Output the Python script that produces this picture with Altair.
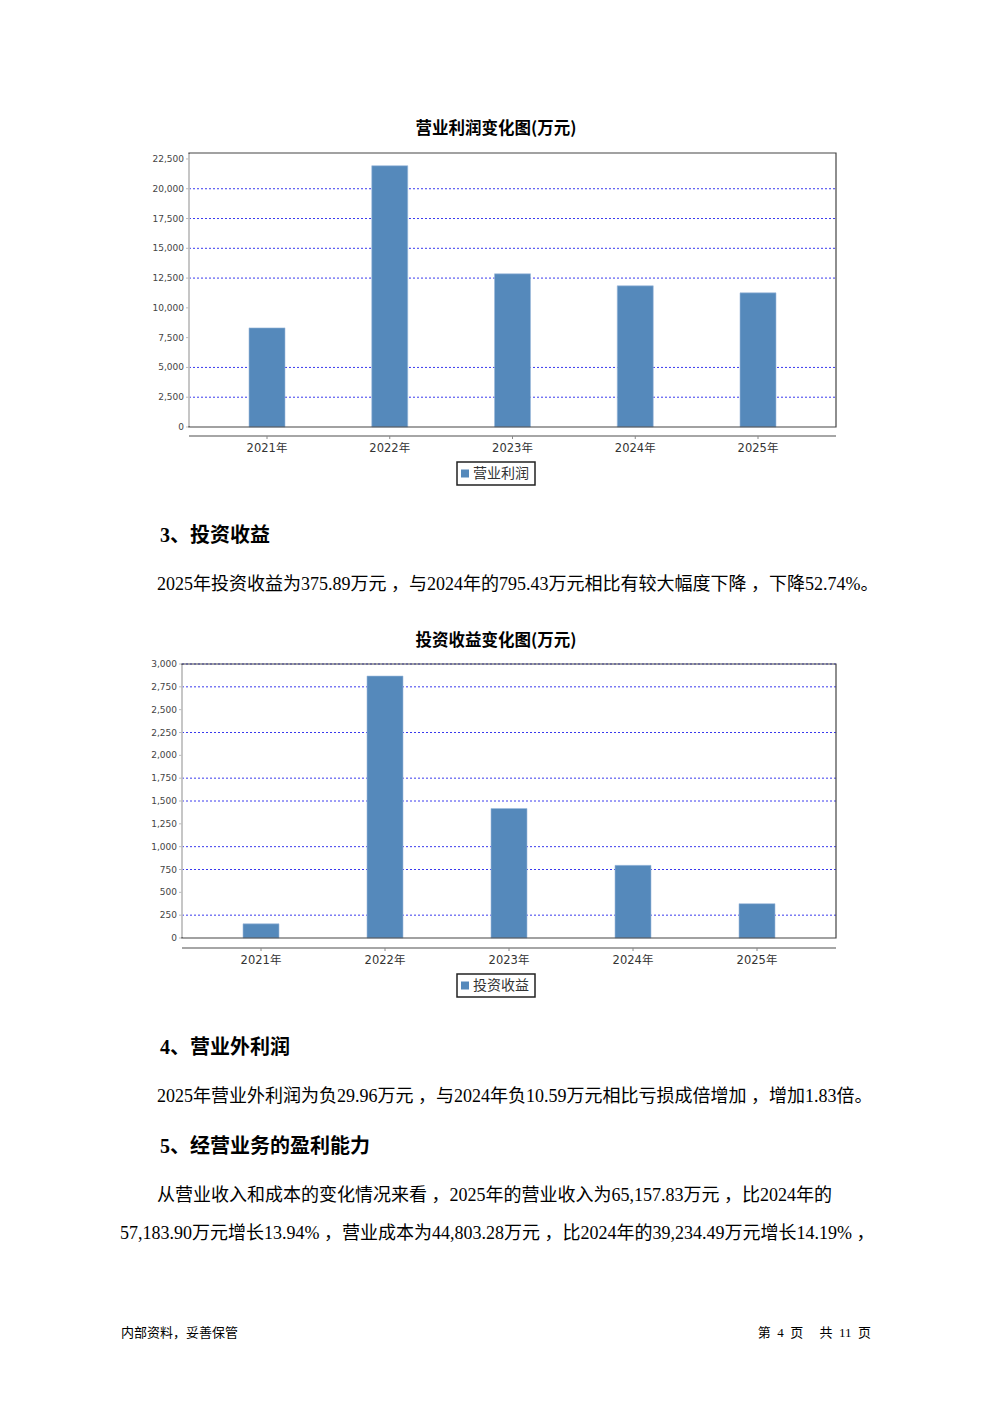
import altair as alt
import pandas as pd

# ---------------- data ----------------
years = ["2021年", "2022年", "2023年", "2024年", "2025年"]
op_profit = [8320, 21930, 12860, 11850, 11260]          # 营业利润 (万元)
inv_income = [155, 2868, 1418, 795.43, 375.89]           # 投资收益 (万元)

profit_ticks = [0, 2500, 5000, 7500, 10000, 12500, 15000, 17500, 20000, 22500]
profit_grid = [2500, 5000, 12500, 15000, 17500, 20000]
inv_ticks = [0, 250, 500, 750, 1000, 1250, 1500, 1750, 2000, 2250, 2500, 2750, 3000]
inv_grid = [250, 750, 1000, 1500, 1750, 2250, 2750, 3000]

title1 = "营业利润变化图(万元)"
title2 = "投资收益变化图(万元)"
series1 = "营业利润"
series2 = "投资收益"

heading3 = "3、投资收益"
para3 = "2025年投资收益为375.89万元 ，与2024年的795.43万元相比有较大幅度下降 ，下降52.74%。"
heading4 = "4、营业外利润"
para4 = "2025年营业外利润为负29.96万元 ，与2024年负10.59万元相比亏损成倍增加 ，增加1.83倍。"
heading5 = "5、经营业务的盈利能力"
para5a = "从营业收入和成本的变化情况来看 ，2025年的营业收入为65,157.83万元 ，比2024年的"
para5b = "57,183.90万元增长13.94% ，营业成本为44,803.28万元 ，比2024年的39,234.49万元增长14.19% ，"
footer_left = "内部资料，妥善保管"
footer_right = "第\u00a0\u00a04\u00a0\u00a0页\u00a0\u00a0\u00a0\u00a0\u00a0共\u00a0\u00a011\u00a0\u00a0页"

# ---------------- style ----------------
OFF = 8
BAR = "#5589bb"
GRID = "#3a3aee"
SANS = "DejaVu Sans, Noto Sans CJK SC"
CJK = "Noto Sans CJK SC"
DOC = "Liberation Serif, Noto Sans CJK SC"
PARA_SIZE = 18
HEAD_SIZE = 20


def P(v):
    return v - OFF


def text_layer(s, x, y, size, font, bold=False, align="left", color="#000"):
    return alt.Chart(pd.DataFrame({"t": [s]})).mark_text(
        align=align, baseline="middle", fontSize=size, font=font,
        fontWeight="bold" if bold else "normal", color=color
    ).encode(x=alt.value(P(x)), y=alt.value(P(y)), text="t:N")


def panel(title, series, values, ticks, grid, ymax, left, right, top, bottom,
          c_first, c_last, title_y, axis_y, label_y, legend_y):
    step = (c_last - c_first) / 4
    xs = alt.Scale(domain=years, range=[P(c_first - step / 2), P(c_last + step / 2)],
                   paddingInner=0, paddingOuter=0)
    ys = alt.Scale(domain=[0, ymax], range=[P(bottom), P(top)], nice=False, zero=True)
    df = pd.DataFrame({"year": years, "v": values})
    layers = []
    # title
    layers.append(text_layer(title, 496, title_y, 16.5, CJK, bold=True, align="center"))
    # grid
    layers.append(alt.Chart(pd.DataFrame({"g": grid})).mark_rule(
        color=GRID, strokeDash=[2, 2], strokeWidth=1).encode(
        y=alt.Y("g:Q", scale=ys, axis=None), x=alt.value(P(left)), x2=alt.value(P(right))))
    # y tick marks
    layers.append(alt.Chart(pd.DataFrame({"g": ticks})).mark_rule(
        color="#bbbbbb", strokeWidth=1).encode(
        y=alt.Y("g:Q", scale=ys, axis=None), x=alt.value(P(left - 3)), x2=alt.value(P(left))))
    # y labels
    layers.append(alt.Chart(pd.DataFrame({"g": ticks})).mark_text(
        align="right", baseline="middle", fontSize=9, font=SANS, color="#444").encode(
        y=alt.Y("g:Q", scale=ys, axis=None), x=alt.value(P(left - 5)),
        text=alt.Text("g:Q", format=",")))
    # bars
    layers.append(alt.Chart(df).mark_bar(size=36, color=BAR, stroke="#9dbbdc", strokeWidth=0.6).encode(
        x=alt.X("year:N", scale=xs, axis=None, sort=years),
        y=alt.Y("v:Q", scale=ys, axis=None)))
    # frame
    layers.append(alt.Chart(pd.DataFrame({"a": [0]})).mark_rect(
        fill=None, stroke="#444", strokeWidth=1.2).encode(
        x=alt.value(P(left)), x2=alt.value(P(right)), y=alt.value(P(top)), y2=alt.value(P(bottom))))
    layers.append(alt.Chart(pd.DataFrame({"a": [0]})).mark_rule(
        color="#d8d8d8", strokeWidth=1.5).encode(
        x=alt.value(P(left)), y=alt.value(P(top + 1)), y2=alt.value(P(bottom - 1))))
    # x axis line
    layers.append(alt.Chart(pd.DataFrame({"a": [0]})).mark_rule(
        color="#888", strokeWidth=1.5).encode(
        x=alt.value(P(left)), x2=alt.value(P(right)), y=alt.value(P(axis_y))))
    # x ticks
    layers.append(alt.Chart(df).mark_rule(color="#888", strokeWidth=1).encode(
        x=alt.X("year:N", scale=xs, axis=None, sort=years),
        y=alt.value(P(axis_y)), y2=alt.value(P(axis_y + 3))))
    # x labels
    layers.append(alt.Chart(df).mark_text(
        align="center", baseline="middle", fontSize=11.5, font=SANS, color="#333").encode(
        x=alt.X("year:N", scale=xs, axis=None, sort=years),
        y=alt.value(P(label_y)), text="year:N"))
    # legend
    layers.append(alt.Chart(pd.DataFrame({"a": [0]})).mark_rect(
        fill="white", stroke="#222", strokeWidth=1.5).encode(
        x=alt.value(P(457)), x2=alt.value(P(535)), y=alt.value(P(legend_y - 11.5)),
        y2=alt.value(P(legend_y + 11.5))))
    layers.append(alt.Chart(pd.DataFrame({"a": [0]})).mark_rect(color=BAR).encode(
        x=alt.value(P(461)), x2=alt.value(P(469)), y=alt.value(P(legend_y - 4)),
        y2=alt.value(P(legend_y + 4))))
    layers.append(text_layer(series, 473, legend_y, 14, CJK, color="#333"))
    return layers


layers = []
layers += panel(title1, series1, op_profit, profit_ticks, profit_grid, 23000,
                189, 836, 153, 427, 267, 758, 129, 436, 448.5, 473.5)
layers += panel(title2, series2, inv_income, inv_ticks, inv_grid, 3000,
                182, 836, 664, 938, 261, 757, 641, 948, 960.5, 985.5)

layers.append(text_layer(heading3, 160, 536, HEAD_SIZE, DOC, bold=True))
layers.append(text_layer(para3, 157, 585, PARA_SIZE, DOC))
layers.append(text_layer(heading4, 160, 1048, HEAD_SIZE, DOC, bold=True))
layers.append(text_layer(para4, 157, 1097, PARA_SIZE, DOC))
layers.append(text_layer(heading5, 160, 1147, HEAD_SIZE, DOC, bold=True))
layers.append(text_layer(para5a, 157, 1196, PARA_SIZE, DOC))
layers.append(text_layer(para5b, 120, 1234, PARA_SIZE, DOC))
layers.append(text_layer(footer_left, 121, 1333, 13, CJK))
layers.append(text_layer(footer_right, 871, 1333, 13, DOC, align="right"))

chart = alt.layer(*layers).resolve_scale(x="independent", y="independent").properties(
    width=976, height=1385, padding=0, autosize="none"
).configure_view(stroke=None)

chart.save("out.html", embed_options={"renderer": "svg", "actions": False})
